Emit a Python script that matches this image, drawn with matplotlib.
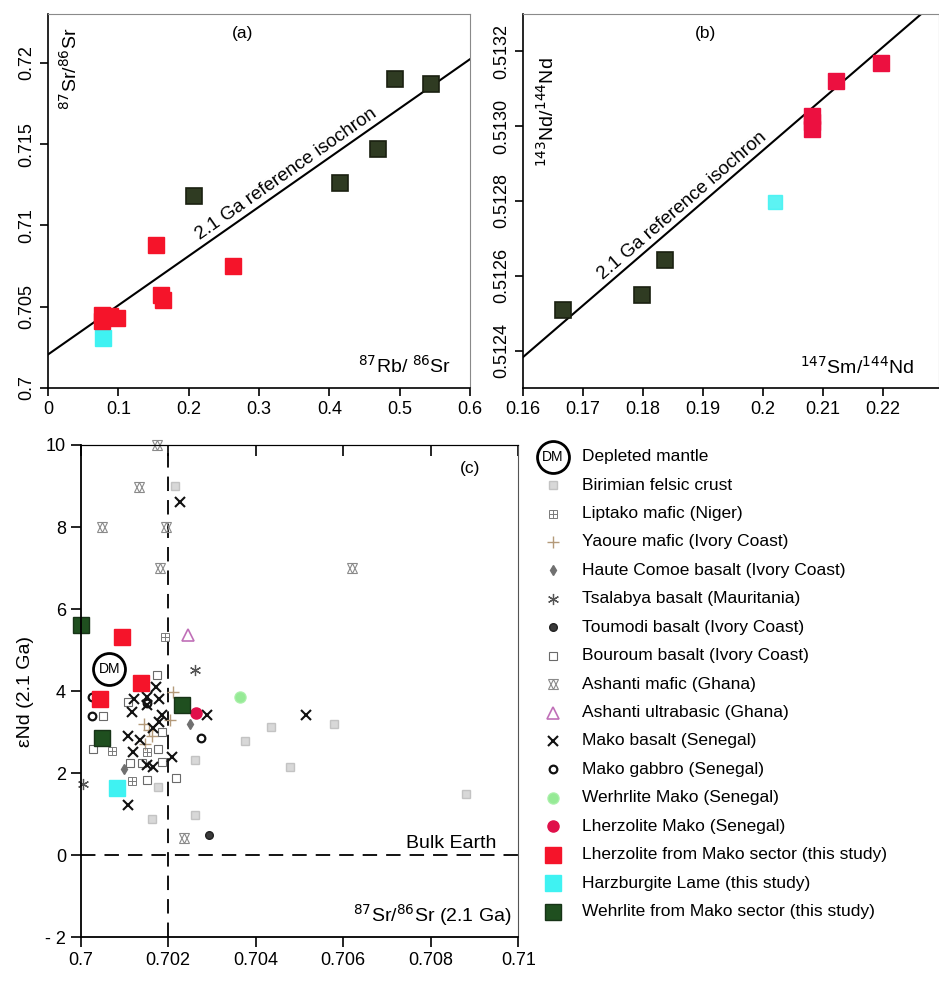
import numpy as np
import matplotlib
matplotlib.use('Agg')
import matplotlib.pyplot as plt
from matplotlib.ticker import FuncFormatter

plt.rcParams['font.family'] = ['Liberation Sans', 'DejaVu Sans']

# ---------------- panel (a)  Rb-Sr
a_lherz_rb = [0.154, 0.263, 0.160, 0.164, 0.077, 0.088, 0.098, 0.077]
a_lherz_sr = [0.7088, 0.7075, 0.7057, 0.7054, 0.7045, 0.7044, 0.7043, 0.7041]
a_wehr_rb = [0.494, 0.545, 0.469, 0.415, 0.208]
a_wehr_sr = [0.7190, 0.7187, 0.7147, 0.7126, 0.7118]
a_harz_rb = [0.078]
a_harz_sr = [0.7031]

# ---------------- panel (b)  Sm-Nd
b_lherz_sm = [0.2081, 0.2081, 0.2081, 0.2122, 0.2196]
b_lherz_nd = [0.513027, 0.513010, 0.512992, 0.513120, 0.513169]
b_wehr_sm = [0.1667, 0.1799, 0.1837]
b_wehr_nd = [0.512509, 0.512549, 0.512643]
b_harz_sm = [0.2019]
b_harz_nd = [0.512798]

# reference isochrons (2.1 Ga)
age = 2.1e9
lam_rb = 1.42e-11
lam_sm = 6.54e-12
sr_initial = 0.70206
nd_initial = 0.51017

# ---------------- panel (c)  eNd vs 87Sr/86Sr
dm_sr, dm_end = [0.70065], [4.54]
birimian_sr = [0.70216, 0.70436, 0.70478, 0.70579, 0.70880, 0.70261, 0.70261, 0.70177, 0.70162, 0.70375]
birimian_end = [9.00, 3.13, 2.15, 3.20, 1.49, 2.32, 0.98, 1.67, 0.89, 2.79]
liptako_sr = [0.70193, 0.70071, 0.70117, 0.70152]
liptako_end = [5.33, 2.54, 1.81, 2.52]
yaoure_sr = [0.70212, 0.70204, 0.70145, 0.70155, 0.70162, 0.70148]
yaoure_end = [3.98, 3.29, 3.20, 3.05, 2.90, 2.70]
haute_sr = [0.70250, 0.70100]
haute_end = [3.21, 2.10]
tsalabya_sr = [0.70261, 0.70005]
tsalabya_end = [4.51, 1.73]
toumodi_sr = [0.70294]
toumodi_end = [0.50]
bouroum_sr = [0.70175, 0.70052, 0.70027, 0.70109, 0.70177, 0.70185, 0.70139, 0.70185, 0.70218, 0.70152, 0.70113]
bouroum_end = [4.39, 3.40, 2.60, 3.74, 2.60, 3.01, 2.24, 2.28, 1.89, 1.83, 2.24]
ashanti_sr = [0.70174, 0.70133, 0.70048, 0.70196, 0.70181, 0.70621, 0.70235]
ashanti_end = [10.0, 8.98, 7.99, 7.99, 6.99, 6.99, 0.43]
ashanti_ub_sr, ashanti_ub_end = [0.70246], [5.37]
mako_bas_sr = [0.70227, 0.70515, 0.70209, 0.70109, 0.70109, 0.70117, 0.70122, 0.70152, 0.70172, 0.70180,
               0.70151, 0.70185, 0.70180, 0.70166, 0.70136, 0.70120, 0.70152, 0.70166, 0.70288]
mako_bas_end = [8.62, 3.41, 2.40, 1.22, 2.90, 3.50, 3.82, 3.86, 4.11, 3.82,
                3.66, 3.41, 3.25, 3.09, 2.80, 2.52, 2.20, 2.14, 3.41]
mako_gab_sr = [0.70025, 0.70025, 0.70276, 0.70151]
mako_gab_end = [3.86, 3.40, 2.85, 3.70]
wehr_mako_sr, wehr_mako_end = [0.70364], [3.86]
lherz_mako_sr, lherz_mako_end = [0.70264], [3.46]
c_lherz_sr = [0.70094, 0.70138, 0.70043]
c_lherz_end = [5.31, 4.19, 3.82]
c_harz_sr, c_harz_end = [0.70082], [1.63]
c_wehr_sr = [0.70000, 0.70048, 0.70231]
c_wehr_end = [5.61, 2.87, 3.66]

legend_labels = ['Depleted mantle', 'Birimian felsic crust', 'Liptako mafic (Niger)',
                 'Yaoure mafic (Ivory Coast)', 'Haute Comoe basalt (Ivory Coast)',
                 'Tsalabya basalt (Mauritania)', 'Toumodi basalt (Ivory Coast)',
                 'Bouroum basalt (Ivory Coast)', 'Ashanti mafic (Ghana)',
                 'Ashanti ultrabasic (Ghana)', 'Mako basalt (Senegal)', 'Mako gabbro (Senegal)',
                 'Werhrlite Mako (Senegal)', 'Lherzolite Mako (Senegal)',
                 'Lherzolite from Mako sector (this study)', 'Harzburgite Lame (this study)',
                 'Wehrlite from Mako sector (this study)']

RED = '#f5142a'
CYAN = '#3ff2f2'
DARK = '#2f3b22'
DKGREEN = '#1f4f1f'

styles = {
    'birimian': [dict(marker='s', ms=6, mfc='#d2d2d2', mec='#bdbdbd', alpha=0.85)],
    'liptako': [dict(marker='s', ms=6, mfc='none', mec='#7a7a7a', mew=0.7),
                dict(marker='+', ms=6, mec='#7a7a7a', mew=0.7)],
    'yaoure': [dict(marker='+', ms=8, mec='#b49a7a', mew=1.0)],
    'haute': [dict(marker='d', ms=5, mfc='#707070', mec='#707070')],
    'tsalabya': [dict(marker=(6, 2, 0), ms=8, mec='#555555', mew=0.9)],
    'toumodi': [dict(marker='o', ms=5.5, mfc='#3a3a3a', mec='#222222')],
    'bouroum': [dict(marker='s', ms=6, mfc='none', mec='#6a6a6a', mew=0.8)],
    'ashanti': [dict(marker='^', ms=7, mfc='none', mec='#8a8a8a', mew=0.8),
                dict(marker='v', ms=7, mfc='none', mec='#8a8a8a', mew=0.8)],
    'ashanti_ub': [dict(marker='^', ms=9, mfc='none', mec='#c070b8', mew=1.2)],
    'mako_bas': [dict(marker='x', ms=7, mec='#111111', mew=1.5)],
    'mako_gab': [dict(marker='o', ms=5.5, mfc='none', mec='#111111', mew=1.6)],
    'wehr_mako': [dict(marker='o', ms=8, mfc='#8be88b', mec='#a8f0a8', alpha=0.9)],
    'lherz_mako': [dict(marker='o', ms=8, mfc='#e0104a', mec='#e0104a')],
    'lherz': [dict(marker='s', ms=11, mfc=RED, mec=RED)],
    'harz': [dict(marker='s', ms=12, mfc=CYAN, mec=CYAN)],
    'wehr': [dict(marker='s', ms=11, mfc=DKGREEN, mec='#173317', mew=1.0)],
}


def draw(ax, x, y, kind, **extra):
    for st in styles[kind]:
        ax.plot(x, y, linestyle='none', clip_on=False, **st, **extra)


def line_angle(ax, x0, slope, dx):
    p1 = ax.transData.transform((x0, 0))
    p2 = ax.transData.transform((x0 + dx, slope * dx))
    return np.degrees(np.arctan2(p2[1] - p1[1], p2[0] - p1[0]))


gfmt = FuncFormatter(lambda v, p: '%g' % v)

fig = plt.figure(figsize=(9.39, 9.81), dpi=100)
W, H = 939.0, 981.0

# ---------------- (a)
ax_a = fig.add_axes([48 / W, 1 - 388 / H, 422 / W, 374 / H])
ax_a.set_xlim(0, 0.6)
ax_a.set_ylim(0.7, 0.723)
slope_a = np.exp(lam_rb * age) - 1
ax_a.axline((0, sr_initial), slope=slope_a, color='black', lw=1.5)
ax_a.plot(a_wehr_rb, a_wehr_sr, 's', ms=11, mfc=DARK, mec='#1a2010', mew=1.2)
ax_a.plot(a_harz_rb, a_harz_sr, 's', ms=11, mfc=CYAN, mec=CYAN)
ax_a.plot(a_lherz_rb, a_lherz_sr, 's', ms=11, mfc=RED, mec=RED)
ax_a.set_xticks([0, 0.1, 0.2, 0.3, 0.4, 0.5, 0.6])
ax_a.set_yticks([0.7, 0.705, 0.71, 0.715, 0.72])
ax_a.xaxis.set_major_formatter(gfmt)
ax_a.yaxis.set_major_formatter(gfmt)
x0 = 0.345
ang = line_angle(ax_a, x0, slope_a, 0.1)
ax_a.text(x0, sr_initial + slope_a * x0 + 0.0002, '2.1 Ga reference isochron', fontsize=13.5,
          rotation=ang, rotation_mode='anchor', ha='center', va='bottom')
ax_a.text(0.462, 0.949, '(a)', transform=ax_a.transAxes, fontsize=12.5, ha='center', va='center')
ax_a.text(0.052, 0.853, r'$^{87}$Sr/$^{86}$Sr', transform=ax_a.transAxes, fontsize=14,
          rotation=90, ha='center', va='center')
ax_a.text(0.846, 0.059, r'$^{87}$Rb/ $^{86}$Sr', transform=ax_a.transAxes, fontsize=14,
          ha='center', va='center')

# ---------------- (b)
ax_b = fig.add_axes([523 / W, 1 - 388 / H, 416 / W, 374 / H])
ax_b.set_xlim(0.16, 0.2293)
ax_b.set_ylim(0.5123, 0.5133)
slope_b = np.exp(lam_sm * age) - 1
ax_b.axline((0, nd_initial), slope=slope_b, color='black', lw=1.5)
ax_b.plot(b_wehr_sm, b_wehr_nd, 's', ms=11, mfc=DARK, mec='#1a2010', mew=1.2)
ax_b.plot(b_harz_sm, b_harz_nd, 's', ms=10, mfc=CYAN, mec=CYAN, alpha=0.85)
ax_b.plot(b_lherz_sm, b_lherz_nd, 's', ms=11, mfc='#ec1040', mec='#ec1040')
ax_b.set_xticks([0.16, 0.17, 0.18, 0.19, 0.2, 0.21, 0.22])
ax_b.set_yticks([0.5124, 0.5126, 0.5128, 0.5130, 0.5132])
ax_b.xaxis.set_major_formatter(gfmt)
ax_b.yaxis.set_major_formatter(FuncFormatter(lambda v, p: '%.4f' % v))
x0 = 0.1875
ang = line_angle(ax_b, x0, slope_b, 0.02)
ax_b.text(x0, nd_initial + slope_b * x0 + 0.000008, '2.1 Ga reference isochron', fontsize=13.5,
          rotation=ang, rotation_mode='anchor', ha='center', va='bottom')
ax_b.text(0.4375, 0.949, '(b)', transform=ax_b.transAxes, fontsize=12.5, ha='center', va='center')
ax_b.text(0.058, 0.738, r'$^{143}$Nd/$^{144}$Nd', transform=ax_b.transAxes, fontsize=14,
          rotation=90, ha='center', va='center')
ax_b.text(0.803, 0.056, r'$^{147}$Sm/$^{144}$Nd', transform=ax_b.transAxes, fontsize=14,
          ha='center', va='center')

for ax in (ax_a, ax_b):
    ax.tick_params(direction='out', length=6, width=1.2, labelsize=13)
    ax.tick_params(axis='y', labelrotation=90)
    for s in ('top', 'right'):
        ax.spines[s].set_color('#8a8a8a')
    for s in ('left', 'bottom'):
        ax.spines[s].set_linewidth(1.2)
    for lab in ax.get_yticklabels():
        lab.set_va('center')

# ---------------- (c)
ax_c = fig.add_axes([80.7 / W, 1 - 937.3 / H, 437.6 / W, 492.3 / H])
ax_c.set_xlim(0.7, 0.71)
ax_c.set_ylim(-2, 10)
ax_c.axvline(0.702, color='black', lw=1.3, dashes=(8, 5))
ax_c.axhline(0, color='black', lw=1.3, dashes=(8, 5))

draw(ax_c, birimian_sr, birimian_end, 'birimian')
draw(ax_c, yaoure_sr, yaoure_end, 'yaoure')
draw(ax_c, liptako_sr, liptako_end, 'liptako')
draw(ax_c, bouroum_sr, bouroum_end, 'bouroum')
draw(ax_c, ashanti_sr, ashanti_end, 'ashanti')
draw(ax_c, haute_sr, haute_end, 'haute')
draw(ax_c, tsalabya_sr, tsalabya_end, 'tsalabya')
draw(ax_c, toumodi_sr, toumodi_end, 'toumodi')
draw(ax_c, ashanti_ub_sr, ashanti_ub_end, 'ashanti_ub')
draw(ax_c, mako_bas_sr, mako_bas_end, 'mako_bas')
draw(ax_c, mako_gab_sr, mako_gab_end, 'mako_gab')
draw(ax_c, wehr_mako_sr, wehr_mako_end, 'wehr_mako')
draw(ax_c, lherz_mako_sr, lherz_mako_end, 'lherz_mako')
draw(ax_c, c_harz_sr, c_harz_end, 'harz')
draw(ax_c, c_lherz_sr, c_lherz_end, 'lherz')
draw(ax_c, c_wehr_sr, c_wehr_end, 'wehr')
ax_c.plot(dm_sr, dm_end, 'o', ms=23, mfc='white', mec='black', mew=2)
ax_c.text(dm_sr[0], dm_end[0], 'DM', fontsize=10, ha='center', va='center')

c_xticks = [0.7, 0.702, 0.704, 0.706, 0.708, 0.71]
c_yticks = [-2, 0, 2, 4, 6, 8, 10]
ax_c.set_xticks(c_xticks)
ax_c.xaxis.set_major_formatter(gfmt)
ax_c.set_yticks(c_yticks)
ax_c.set_yticklabels(['- 2' if v < 0 else str(v) for v in c_yticks])
ax_c.tick_params(direction='out', length=7, width=1.2, labelsize=13)
sec = ax_c.secondary_xaxis('top')
sec.set_xticks(c_xticks)
sec.tick_params(direction='in', length=8, width=1.2, labeltop=False)
for s in ('left', 'bottom'):
    ax_c.spines[s].set_linewidth(1.3)
ax_c.spines['right'].set_color('#555555')
ax_c.text(0.89, 0.953, '(c)', transform=ax_c.transAxes, fontsize=12.5, ha='center', va='center')
ax_c.text(0.95, 0.19, 'Bulk Earth', transform=ax_c.transAxes, fontsize=14, ha='right', va='center')
ax_c.text(0.985, 0.045, r'$^{87}$Sr/$^{86}$Sr (2.1 Ga)', transform=ax_c.transAxes, fontsize=14,
          ha='right', va='center')
ax_c.set_ylabel('εNd (2.1 Ga)', fontsize=14, labelpad=8)

# ---------------- legend
ax_l = fig.add_axes([530 / W, 1 - 935 / H, 409 / W, 495 / H])
ax_l.set_xlim(0, 409)
ax_l.set_ylim(495, 0)
ax_l.axis('off')
kinds = ['dm', 'birimian', 'liptako', 'yaoure', 'haute', 'tsalabya', 'toumodi', 'bouroum',
         'ashanti', 'ashanti_ub', 'mako_bas', 'mako_gab', 'wehr_mako', 'lherz_mako',
         'lherz', 'harz', 'wehr']
for i, (kind, lab) in enumerate(zip(kinds, legend_labels)):
    yy = 16.7 + i * 28.43
    if kind == 'dm':
        ax_l.plot([23], [yy], 'o', ms=23, mfc='white', mec='black', mew=2)
        ax_l.text(23, yy, 'DM', fontsize=10, ha='center', va='center')
    else:
        draw(ax_l, [23], [yy], kind)
    ax_l.text(52, yy, lab, fontsize=12.5, ha='left', va='center')

fig.savefig('out.png', dpi=100)
